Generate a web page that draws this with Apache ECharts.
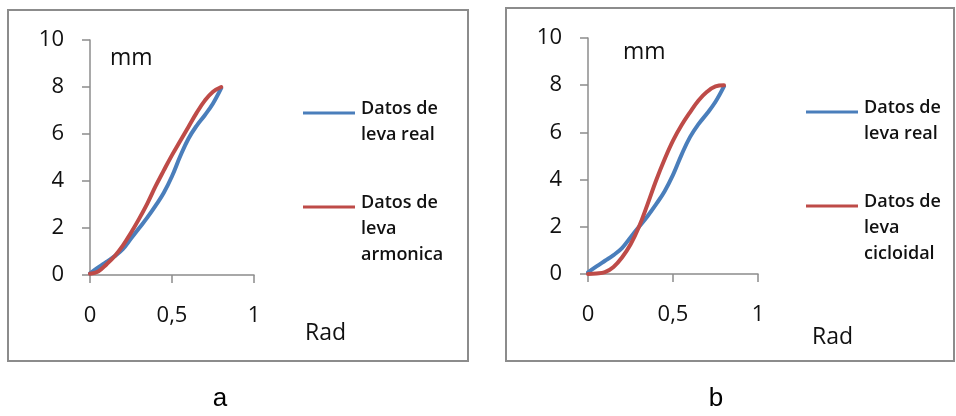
<!DOCTYPE html>
<html>
<head>
<meta charset="utf-8">
<script src="https://cdn.jsdelivr.net/npm/echarts@6/dist/echarts.min.js"></script>
<style>html,body{margin:0;padding:0;background:#fff;}#c{width:956px;height:416px;}</style>
</head>
<body>
<div id="c"></div>
<script>
// Data
const radX = [0, 0.05, 0.1, 0.15, 0.2, 0.25, 0.3, 0.35, 0.4, 0.45, 0.5, 0.55, 0.6, 0.65, 0.7, 0.75, 0.8];
const levaReal = [0.07, 0.32, 0.56, 0.8, 1.1, 1.55, 2.0, 2.45, 2.95, 3.5, 4.2, 5.05, 5.8, 6.35, 6.8, 7.3, 7.95];
const levaArmonica = [0.05, 0.15, 0.45, 0.8, 1.25, 1.8, 2.4, 3.05, 3.78, 4.45, 5.1, 5.7, 6.3, 6.9, 7.42, 7.8, 8.0];
const levaCicloidal = [0, 0.02, 0.08, 0.3, 0.7, 1.25, 2.0, 2.95, 3.95, 4.85, 5.65, 6.3, 6.85, 7.35, 7.72, 7.95, 8.0];
const xTicks = {min: 0, max: 1, interval: 0.5};
const yTicks = {min: 0, max: 10, interval: 2};
const nameReal = 'Datos de leva real';
const nameArm = 'Datos de leva armonica';
const nameCic = 'Datos de leva cicloidal';
const legendReal = ['Datos de', 'leva real'];
const legendArm = ['Datos de', 'leva', 'armonica'];
const legendCic = ['Datos de', 'leva', 'cicloidal'];
const panelLabels = ['a', 'b'];

const BLUE = '#4a7ebb', RED = '#be4b48', AX = '#8c8c8c';
const tickFont = 'Open Sans';

function pairs(xs, ys) { return xs.map((x, i) => [x, ys[i]]); }

function xAxis(idx) {
  return {
    type: 'value', gridIndex: idx, min: xTicks.min, max: xTicks.max, interval: xTicks.interval,
    splitLine: {show: false},
    axisLine: {show: true, lineStyle: {color: AX, width: 1.5}},
    axisTick: {show: true, inside: false, length: 8, lineStyle: {color: AX, width: 1.5}},
    axisLabel: {margin: 30, color: '#111', fontFamily: tickFont, fontSize: 22,
      formatter: v => String(v).replace('.', ',')}
  };
}
function yAxis(idx) {
  return {
    type: 'value', gridIndex: idx, min: yTicks.min, max: yTicks.max, interval: yTicks.interval,
    splitLine: {show: false},
    axisLine: {show: true, lineStyle: {color: AX, width: 1.5}},
    axisTick: {show: true, inside: false, length: 8, lineStyle: {color: AX, width: 1.5}},
    axisLabel: {margin: 26, color: '#111', fontFamily: tickFont, fontSize: 22}
  };
}
function lineSeries(name, idx, ys, color) {
  return {
    name: name, type: 'line', xAxisIndex: idx, yAxisIndex: idx,
    data: pairs(radX, ys), smooth: 0.4, showSymbol: false, symbol: 'none',
    lineStyle: {color: color, width: 4, cap: 'round', join: 'round'},
    itemStyle: {color: color}, animation: false
  };
}
function legendBlock(x, y, lines, color) {
  const els = [{
    type: 'line', shape: {x1: x, y1: y, x2: x + 52, y2: y},
    style: {stroke: color, lineWidth: 3}
  }];
  lines.forEach((t, i) => {
    els.push({type: 'text', left: x + 58, top: y - 13 + i * 26,
      style: {text: t, font: '600 18px "Open Sans"', fill: '#111'}});
  });
  return els;
}
function txt(x, y, t, size, align) {
  return {type: 'text', x: x, y: y,
    style: {text: t, font: size + 'px "Open Sans"', fill: '#111', textAlign: align || 'left', textVerticalAlign: 'middle'}};
}

const chart = echarts.init(document.getElementById('c'), null, {renderer: 'canvas'});
chart.setOption({
  backgroundColor: '#fff',
  animation: false,
  grid: [
    {left: 90, top: 40, width: 164, height: 235},
    {left: 588, top: 38, width: 170, height: 236}
  ],
  xAxis: [xAxis(0), xAxis(1)],
  yAxis: [yAxis(0), yAxis(1)],
  series: [
    lineSeries(nameReal, 0, levaReal, BLUE),
    lineSeries(nameArm, 0, levaArmonica, RED),
    lineSeries(nameReal, 1, levaReal, BLUE),
    lineSeries(nameCic, 1, levaCicloidal, RED)
  ],
  graphic: [
    {type: 'rect', shape: {x: 8, y: 10, width: 460, height: 351}, style: {fill: 'none', stroke: AX, lineWidth: 2}},
    {type: 'rect', shape: {x: 506, y: 8, width: 448, height: 353}, style: {fill: 'none', stroke: AX, lineWidth: 2}},
    txt(110, 58, 'mm', 23), txt(305, 333, 'Rad', 23),
    txt(623, 52, 'mm', 23), txt(812, 337, 'Rad', 23),
    ...legendBlock(303, 113, legendReal, BLUE),
    ...legendBlock(303, 207, legendArm, RED),
    ...legendBlock(806, 112, legendReal, BLUE),
    ...legendBlock(806, 206, legendCic, RED),
    {type: 'text', x: 220, y: 399, style: {text: panelLabels[0], font: '26px "Liberation Sans"', fill: '#000', textAlign: 'center', textVerticalAlign: 'middle'}},
    {type: 'text', x: 716, y: 399, style: {text: panelLabels[1], font: '26px "Liberation Sans"', fill: '#000', textAlign: 'center', textVerticalAlign: 'middle'}}
  ]
});
</script>
</body>
</html>
